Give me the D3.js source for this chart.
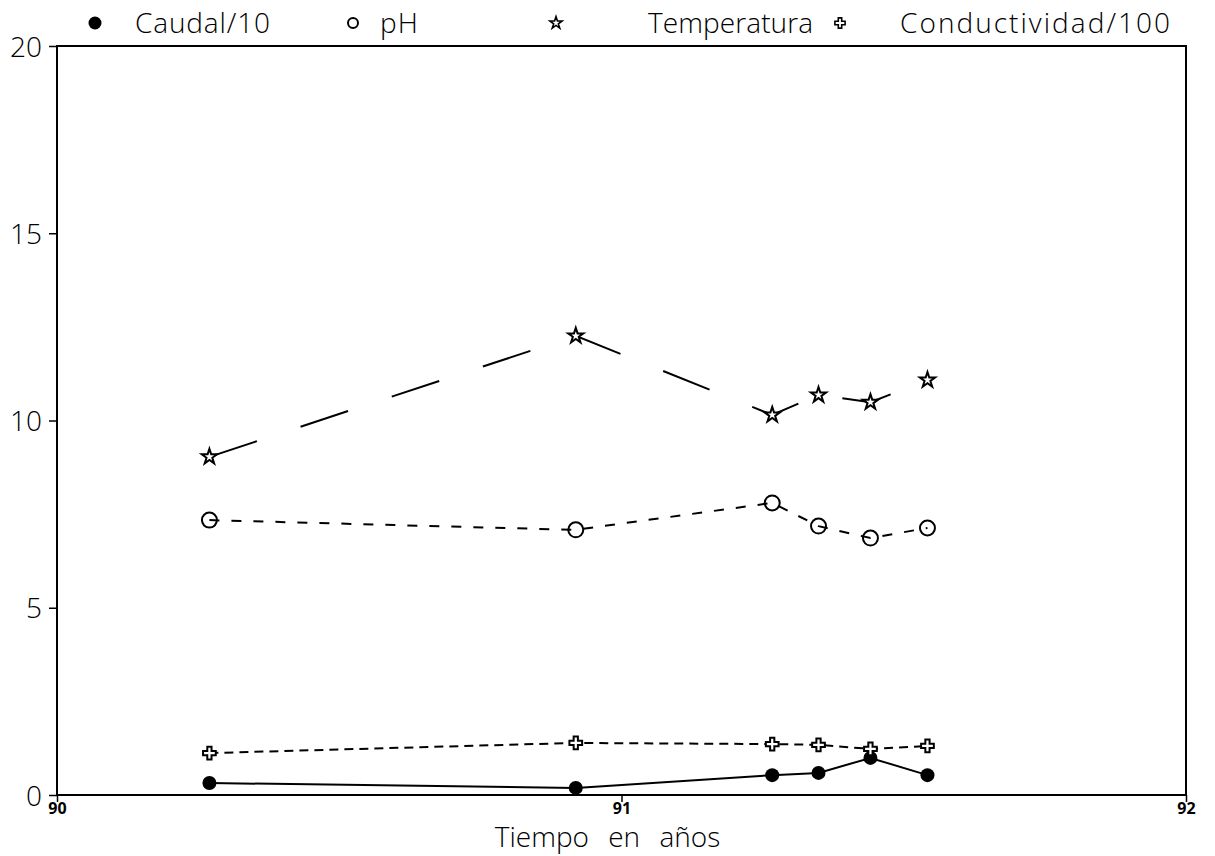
<!DOCTYPE html>
<html>
<head>
<meta charset="utf-8">
<script src="https://cdn.jsdelivr.net/npm/d3@7"></script>
<style>
  body { margin: 0; background: #fff; }
  text { font-family: "Open Sans", "DejaVu Sans", sans-serif; fill: #000; }
</style>
</head>
<body>
<svg id="chart" width="1215" height="856"></svg>
<script>
// fechas de muestreo (años)
const tiempo = [90.27, 90.919, 91.267, 91.349, 91.441, 91.542];
const caudal = [0.32, 0.19, 0.53, 0.59, 0.99, 0.53];
const ph = [7.34, 7.08, 7.80, 7.18, 6.86, 7.13];
const temperatura = [9.03, 12.26, 10.15, 10.68, 10.49, 11.08];
const conductividad = [1.12, 1.39, 1.36, 1.34, 1.23, 1.31];
const xTicks = [90, 91, 92];
const yTicks = [0, 5, 10, 15, 20];

const margin = {top: 46, left: 57, right: 29, bottom: 61};
const width = 1215 - margin.left - margin.right;
const height = 856 - margin.top - margin.bottom;

const svg = d3.select("#chart");
const g = svg.append("g").attr("transform", `translate(${margin.left},${margin.top})`);

const x = d3.scaleLinear().domain([90, 92]).range([0, width]);
const y = d3.scaleLinear().domain([0, 20]).range([height, 0]);

// marco
g.append("rect")
    .attr("width", width).attr("height", height)
    .attr("fill", "none").attr("stroke", "#000").attr("stroke-width", 2);

// ejes
const yAxis = g.append("g")
    .call(d3.axisLeft(y).tickValues(yTicks).tickSize(8).tickFormat(d3.format("d")));
yAxis.select(".domain").remove();
yAxis.selectAll("line").attr("stroke-width", 1.5);
yAxis.selectAll("text").style("font-size", "28px").style("font-weight", 300).attr("x", -15).attr("dy", "0.36em");

const xAxis = g.append("g").attr("transform", `translate(0,${height})`)
    .call(d3.axisBottom(x).tickValues(xTicks).tickSize(7).tickFormat(d3.format("d")));
xAxis.select(".domain").remove();
xAxis.selectAll("line").attr("stroke-width", 1.5);
xAxis.selectAll("text").style("font-size", "16px").style("font-weight", 700).attr("y", 8);

g.append("text")
    .attr("x", x(91) - 14).attr("y", height + 52)
    .attr("text-anchor", "middle")
    .style("font-size", "28px").style("font-weight", 300)
    .style("word-spacing", "12px")
    .text("Tiempo en años");

// series
const series = [
  {name: "Caudal/10", values: caudal, dash: null, marker: "filled"},
  {name: "pH", values: ph, dash: "10,12", marker: "circle"},
  {name: "Temperatura", values: temperatura, dash: "50,46", marker: "star"},
  {name: "Conductividad/100", values: conductividad, dash: "9,6", marker: "cross"}
];

const line = d3.line().x(d => x(d[0])).y(d => y(d[1]));

const starPath = d3.symbol().type(d3.symbolStar).size(72)();
const crossPath = d3.symbol().type(d3.symbolCross).size(90)();

function drawMarker(sel, type) {
  if (type === "filled") {
    sel.append("circle").attr("r", 7).attr("fill", "#000");
  } else if (type === "circle") {
    sel.append("circle").attr("r", 7.5).attr("fill", "none").attr("stroke", "#000").attr("stroke-width", 2);
  } else if (type === "star") {
    sel.append("path").attr("d", starPath).attr("fill", "#fff").attr("stroke", "#000").attr("stroke-width", 2);
  } else {
    sel.append("path").attr("d", crossPath).attr("fill", "#fff").attr("stroke", "#000").attr("stroke-width", 2);
  }
}

series.forEach(s => {
  const pts = tiempo.map((t, i) => [t, s.values[i]]);
  g.append("path")
      .datum(pts)
      .attr("d", line)
      .attr("fill", "none")
      .attr("stroke", "#000")
      .attr("stroke-width", 2)
      .attr("stroke-dasharray", s.dash);
  g.selectAll(null)
      .data(pts)
      .enter().append("g")
      .attr("transform", d => `translate(${x(d[0])},${y(d[1])})`)
      .each(function() { drawMarker(d3.select(this), s.marker); });
});

// leyenda
const legendPos = [
  {mx: 95, tx: 135, w: 135},
  {mx: 353, tx: 380, w: 38},
  {mx: 556, tx: 648, w: 165},
  {mx: 840, tx: 900, w: 270}
];
series.forEach((s, i) => {
  const lg = svg.append("g").attr("transform", `translate(0,23)`);
  const m = lg.append("g").attr("transform", `translate(${legendPos[i].mx},0)`);
  if (s.marker === "filled") {
    m.append("circle").attr("r", 6.5).attr("fill", "#000");
  } else if (s.marker === "circle") {
    m.append("circle").attr("r", 5).attr("fill", "none").attr("stroke", "#000").attr("stroke-width", 2);
  } else {
    m.attr("transform", `translate(${legendPos[i].mx},0) scale(0.8)`);
    drawMarker(m, s.marker);
  }
  lg.append("text")
      .attr("x", legendPos[i].tx).attr("y", 0).attr("dy", "0.36em")
      .attr("textLength", legendPos[i].w).attr("lengthAdjust", "spacing")
      .style("font-size", "28px").style("font-weight", 300)
      .text(s.name);
});
</script>
</body>
</html>
